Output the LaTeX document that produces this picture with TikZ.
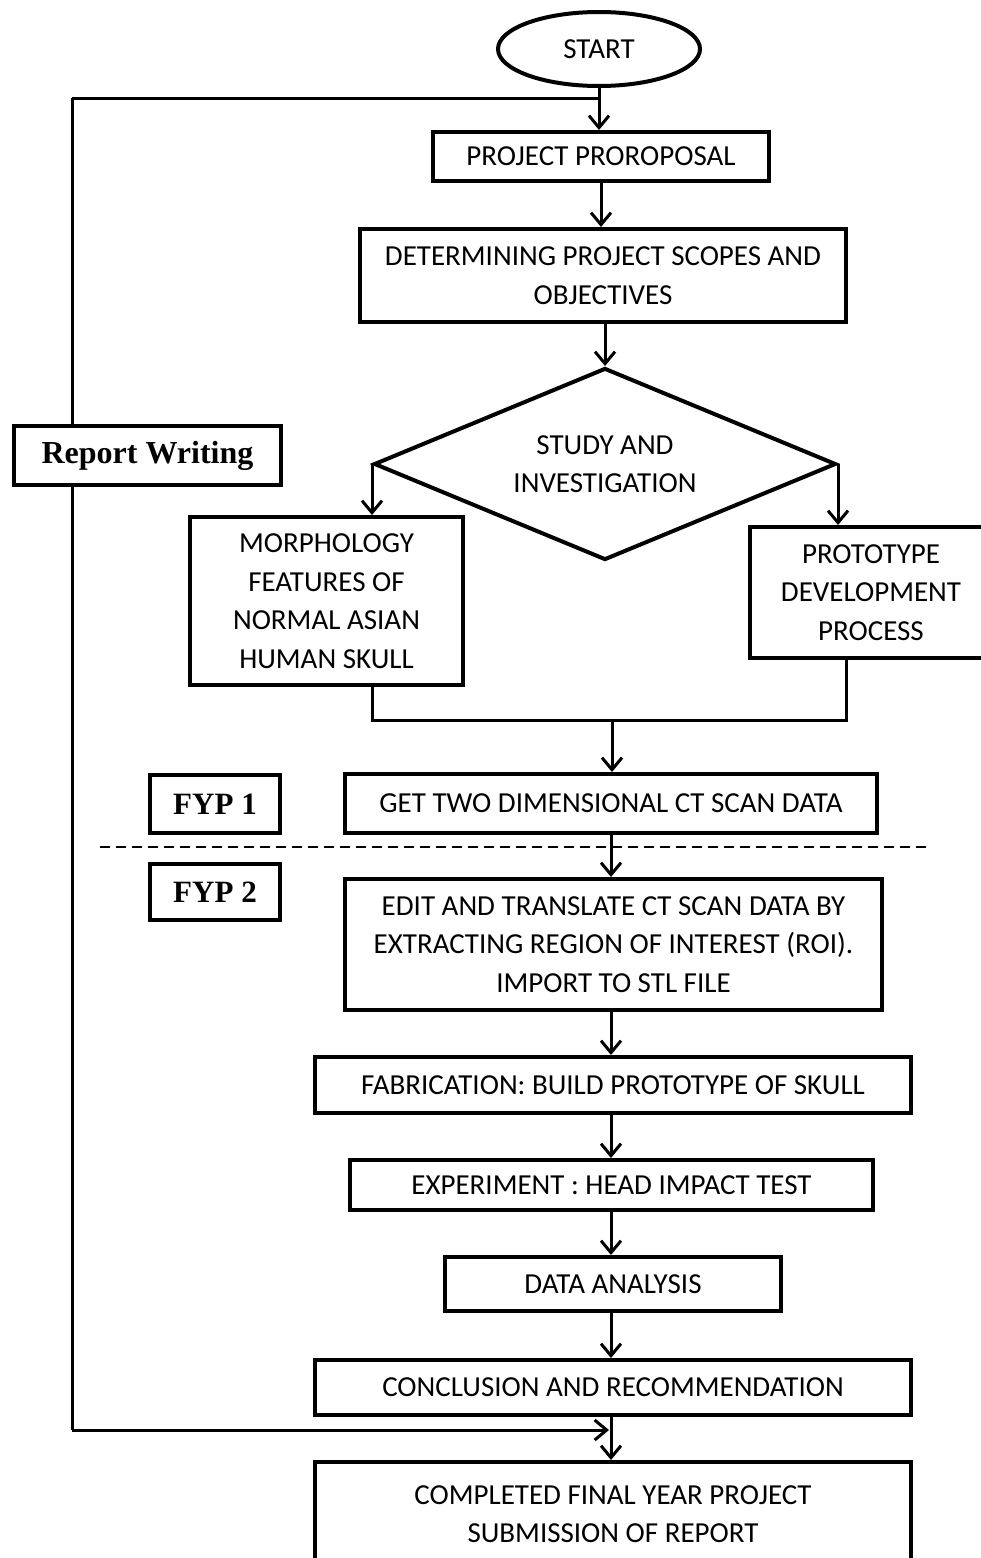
\documentclass[tikz,border=0pt]{standalone}
\usepackage{fontspec}
\setmainfont{Carlito}
\newfontfamily\rwfont{Liberation Serif}
\usetikzlibrary{shapes.geometric,arrows.meta}
\begin{document}
\begin{tikzpicture}[x=1pt,y=-1pt,
  box/.style={draw, line width=4pt, fill=white, inner sep=0pt, align=center, font=\fontsize{29}{38.5}\selectfont},
  lbl/.style={draw, line width=4pt, fill=white, inner sep=0pt, align=center, font=\rwfont\bfseries\fontsize{31}{36}\selectfont},
  conn/.style={line width=3pt},
  arr/.style={conn, -{Straight Barb[length=12pt,width=20pt]}},
  sep/.style={line width=2pt, dash pattern=on 10pt off 6pt}
]
\useasboundingbox (0,0) rectangle (980,1558);
\node[box, ellipse, minimum width=202, minimum height=74] (start) at (599,49) {START};
\node[box, minimum width=336, minimum height=49] (prop) at (601,156.5) {PROJECT PROROPOSAL};
\node[box, minimum width=486, minimum height=93] (scope) at (603,275.5) {DETERMINING PROJECT SCOPES AND\\OBJECTIVES};
\node[box, diamond, shape aspect=2.4, minimum width=462, minimum height=192] (dia) at (605,464) {STUDY AND\\INVESTIGATION};
\node[box, minimum width=273, minimum height=168] (morph) at (326.5,601) {MORPHOLOGY\\FEATURES OF\\NORMAL ASIAN\\HUMAN SKULL};
\node[box, minimum width=242, minimum height=131] (proto) at (871,592.5) {PROTOTYPE\\DEVELOPMENT\\PROCESS};
\node[box, minimum width=532, minimum height=59] (ct) at (611,803.5) {GET TWO DIMENSIONAL CT SCAN DATA};
\node[lbl, minimum width=130, minimum height=58] (fyp1) at (215,804) {FYP 1};
\node[lbl, minimum width=130, minimum height=56] (fyp2) at (215,892) {FYP 2};
\node[box, minimum width=537, minimum height=131] (edit) at (613.5,944.5) {EDIT AND TRANSLATE CT SCAN DATA BY\\EXTRACTING REGION OF INTEREST (ROI).\\IMPORT TO STL FILE};
\node[box, minimum width=596, minimum height=56] (fab) at (613,1085) {FABRICATION: BUILD PROTOTYPE OF SKULL};
\node[box, minimum width=523, minimum height=50] (exp) at (611.5,1185) {EXPERIMENT : HEAD IMPACT TEST};
\node[box, minimum width=336, minimum height=54] (data) at (613,1284) {DATA ANALYSIS};
\node[box, minimum width=596, minimum height=55] (concl) at (613,1387.5) {CONCLUSION AND RECOMMENDATION};
\node[box, minimum width=596, minimum height=104] (comp) at (613,1514) {COMPLETED FINAL YEAR PROJECT\\SUBMISSION OF REPORT};
\node[lbl, minimum width=267, minimum height=59, font=\rwfont\bfseries\fontsize{32}{36}\selectfont] (rw) at (147.5,455.5) {Report Writing};
% loop
\coordinate (lt) at (72,98);
\coordinate (lb) at (72,1430);
\coordinate (le) at (609,1430);
\draw[conn] (lt) -- (start.south |- lt);
\draw[conn] (lt) -- (rw.north -| lt);
\draw[conn] (rw.south -| lt) -- (lb);
\draw[arr] (lb) -- (le);
% main flow
\draw[arr] (start.south) -- (start.south |- prop.north);
\draw[arr] (prop.south) -- (prop.south |- scope.north);
\draw[arr] (scope.south -| dia.north) -- (dia.north);
\draw[arr] (dia.west) -- (dia.west |- morph.north);
\draw[arr] (dia.east) -- (dia.east |- proto.north);
\coordinate (jl) at (372,720);
\coordinate (jr) at (846,720);
\coordinate (jm) at (612,720);
\draw[conn] (morph.south -| jl) -- (jl) -- (jr) -- (proto.south -| jr);
\draw[arr] (jm) -- (jm |- ct.north);
\coordinate (dl) at (100,847);
\coordinate (dr) at (930,847);
\draw[sep] (dl) -- (dr);
\draw[arr] (ct.south) -- (ct.south |- edit.north);
\draw[arr] (edit.south -| ct.south) -- (ct.south |- fab.north);
\draw[arr] (fab.south -| ct.south) -- (ct.south |- exp.north);
\draw[arr] (exp.south -| ct.south) -- (ct.south |- data.north);
\draw[arr] (data.south -| ct.south) -- (ct.south |- concl.north);
\draw[arr] (concl.south -| ct.south) -- (ct.south |- comp.north);
\end{tikzpicture}
\end{document}
